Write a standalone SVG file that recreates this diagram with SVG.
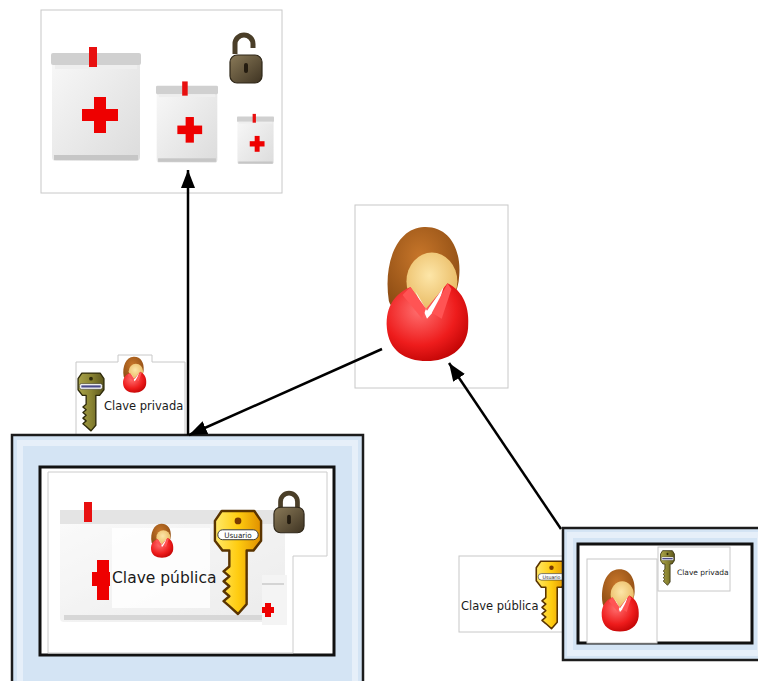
<svg xmlns="http://www.w3.org/2000/svg" width="758" height="681" viewBox="0 0 758 681">
  <style>
    .card { fill: #ffffff; stroke: #c8c8c8; stroke-width: 1; }
    .frame { fill: #d4e4f4; stroke: #1c1c1c; stroke-width: 2.5; }
    .frame-in { fill: none; stroke: #e6eff9; stroke-width: 6; }
    .panel { fill: #ffffff; stroke: #111111; stroke-width: 3; }
    .edge { fill: none; stroke: #000000; stroke-width: 2.5; marker-end: url(#arrow); }
    .lbl { font-family: "DejaVu Sans", "Liberation Sans", sans-serif; fill: #1a1a1a; }
  </style>
  <defs>
    <marker id="arrow" markerUnits="userSpaceOnUse" markerWidth="20" markerHeight="16" refX="18" refY="7" orient="auto">
      <path d="M0,0 L18,7 L0,14 Z" fill="#000"/>
    </marker>
    <linearGradient id="kitBody" x1="0" y1="0" x2="1" y2="1">
      <stop offset="0" stop-color="#f8f8f8"/>
      <stop offset="1" stop-color="#dcdcdc"/>
    </linearGradient>
    <linearGradient id="gold" x1="0" y1="0" x2="1" y2="0">
      <stop offset="0" stop-color="#ffe96a"/>
      <stop offset="0.5" stop-color="#ffcc10"/>
      <stop offset="1" stop-color="#e09000"/>
    </linearGradient>
    <linearGradient id="olive" x1="0" y1="0" x2="1" y2="0">
      <stop offset="0" stop-color="#a9a34a"/>
      <stop offset="0.5" stop-color="#8a8432"/>
      <stop offset="1" stop-color="#5c561c"/>
    </linearGradient>
    <linearGradient id="lockBody" x1="0" y1="0" x2="1" y2="1">
      <stop offset="0" stop-color="#8a7a58"/>
      <stop offset="1" stop-color="#3e3322"/>
    </linearGradient>
    <radialGradient id="hair" cx="0.45" cy="0.35" r="0.7">
      <stop offset="0" stop-color="#c7762a"/>
      <stop offset="1" stop-color="#8a4a12"/>
    </radialGradient>
    <radialGradient id="face" cx="0.45" cy="0.4" r="0.65">
      <stop offset="0" stop-color="#fde6a8"/>
      <stop offset="1" stop-color="#e8b860"/>
    </radialGradient>
    <radialGradient id="suit" cx="0.4" cy="0.35" r="0.75">
      <stop offset="0" stop-color="#ff7070"/>
      <stop offset="0.6" stop-color="#ee1c1c"/>
      <stop offset="1" stop-color="#b80000"/>
    </radialGradient>

    <!-- first-aid kit -->
    <symbol id="kit" viewBox="0 0 90 118" preserveAspectRatio="none">
      <rect x="1" y="10" width="88" height="106" rx="4" fill="url(#kitBody)"/>
      <rect x="0" y="8" width="90" height="12" rx="2" fill="#d0d0d0"/>
      <rect x="4" y="20" width="82" height="4" fill="#eeeeee"/>
      <rect x="3" y="110" width="84" height="5" fill="#c6c6c6"/>
      <rect x="38" y="2" width="8" height="20" fill="#e81010"/>
      <rect x="43" y="52" width="12" height="36" fill="#ee0000"/>
      <rect x="31" y="64" width="36" height="12" fill="#ee0000"/>
    </symbol>

    <!-- padlock, closed -->
    <symbol id="lockShut" viewBox="0 0 34 46">
      <path d="M8,20 V12 A9,9 0 0 1 26,12 V20" fill="none" stroke="#4a3e28" stroke-width="5"/>
      <rect x="1" y="18" width="32" height="27" rx="7" fill="url(#lockBody)" stroke="#2e2618" stroke-width="1.2"/>
      <rect x="15" y="26" width="4" height="10" rx="2" fill="#241c10"/>
    </symbol>

    <!-- padlock, open -->
    <symbol id="lockOpen" viewBox="0 0 34 52">
      <path d="M6,22 V12 A9,9 0 0 1 24,12 V16" fill="none" stroke="#4a3e28" stroke-width="5"/>
      <rect x="1" y="23" width="32" height="28" rx="7" fill="url(#lockBody)" stroke="#2e2618" stroke-width="1.2"/>
      <rect x="15" y="31" width="4" height="10" rx="2" fill="#241c10"/>
    </symbol>

    <!-- user figure -->
    <symbol id="user" viewBox="0 0 90 140" preserveAspectRatio="none">
      <path d="M6,78 C0,40 14,4 42,3 C68,2 80,26 78,52 C77,70 70,80 60,84 L20,90 C12,88 8,84 6,78 Z" fill="url(#hair)"/>
      <ellipse cx="50" cy="58" rx="26" ry="29" fill="url(#face)"/>
      <path d="M4,106 C2,82 14,70 28,64 L44,86 L66,60 C82,68 89,84 87,106 C85,128 66,139 45,139 C22,139 6,128 4,106 Z" fill="url(#suit)"/>
      <path d="M33,68 L45,88 L62,64 L56,84 L45,96 Z" fill="#ffffff"/>
      <path d="M28,64 L44,86 L40,96 L20,72 Z" fill="#ff5454"/>
      <path d="M66,60 L70,66 L60,96 L50,90 Z" fill="#ff5454"/>
    </symbol>

    <!-- key, gold -->
    <symbol id="keyGold" viewBox="0 0 52 108" preserveAspectRatio="none">
      <path d="M9,2 H43 L50,12 V32 L42,42 H35 V96 L26,106 L17,98 L11,93 L17,88 L11,83 L17,78 L11,73 L17,68 L11,63 L17,58 V42 H10 L2,32 V12 Z" fill="url(#gold)" stroke="#5a3400" stroke-width="2.5" stroke-linejoin="round"/>
      <circle cx="26" cy="12" r="3.5" fill="#7a3a00"/>
      <rect x="5" y="21" width="42" height="10" rx="5" fill="#ffffff" stroke="#333" stroke-width="1"/>
      <text x="26" y="29" text-anchor="middle" font-family="DejaVu Sans, sans-serif" font-size="7.5" fill="#222">Usuario</text>
    </symbol>

    <!-- key, olive -->
    <symbol id="keyOlive" viewBox="0 0 52 108" preserveAspectRatio="none">
      <path d="M9,2 H43 L50,12 V32 L42,42 H35 V96 L26,106 L17,98 L11,93 L17,88 L11,83 L17,78 L11,73 L17,68 L11,63 L17,58 V42 H10 L2,32 V12 Z" fill="url(#olive)" stroke="#2e2a0a" stroke-width="2.5" stroke-linejoin="round"/>
      <circle cx="26" cy="12" r="3.5" fill="#2e2a0a"/>
      <rect x="5" y="21" width="42" height="10" rx="3" fill="#ffffff" stroke="#333" stroke-width="1"/>
      <rect x="8" y="24" width="36" height="4" fill="#4a4a8a"/>
    </symbol>
  </defs>

  <!-- records store (unlocked) -->
  <g id="records">
    <rect class="card" x="41" y="10" width="241" height="183"/>
    <use href="#kit" x="51" y="45" width="90" height="118"/>
    <use href="#kit" x="156" y="80" width="62" height="84"/>
    <use href="#kit" x="237" y="113" width="37" height="52"/>
    <use href="#lockOpen" x="229" y="32" width="34" height="52"/>
  </g>

  <!-- user -->
  <g id="user-node">
    <rect class="card" x="355" y="205" width="153" height="183"/>
    <use href="#user" x="383" y="224" width="88" height="138"/>
  </g>

  <!-- private key label -->
  <g id="private-key">
    <path class="card" d="M76,362 H118 V355 H152 V362 H185 V435 H76 Z"/>
    <use href="#keyOlive" x="77" y="372" width="28" height="60"/>
    <use href="#user" x="122" y="356" width="25" height="37"/>
    <text class="lbl" x="104" y="410" font-size="11.5">Clave privada</text>
  </g>

  <!-- locked records -->
  <g id="locked-records">
    <rect class="frame" x="12" y="435" width="351" height="262"/>
    <rect class="frame-in" x="20" y="443" width="335" height="246"/>
    <rect class="panel" x="40" y="467" width="294" height="188"/>
    <path d="M48,472 H327 V556 H293 V653 H48 Z" fill="#ffffff" stroke="#cccccc" stroke-width="1"/>
    <g opacity="0.55">
      <rect x="60" y="510" width="225" height="112" rx="4" fill="url(#kitBody)"/>
      <rect x="60" y="510" width="225" height="14" fill="#cfcfcf"/>
      <rect x="64" y="615" width="215" height="5" fill="#b8b8b8"/>
    </g>
    <rect x="84" y="502" width="8" height="20" fill="#e81010"/>
    <rect x="112" y="528" width="98" height="80" fill="#ffffff" opacity="0.8"/>
    <rect x="97" y="560" width="12" height="40" fill="#ee0000"/>
    <rect x="92" y="572" width="18" height="14" fill="#ee0000"/>
    <use href="#user" x="150" y="523" width="24" height="35"/>
    <text class="lbl" x="112" y="583" font-size="15.5">Clave pública</text>
    <use href="#keyGold" x="213" y="509" width="50" height="107"/>
    <use href="#lockShut" x="273" y="490" width="32" height="44"/>
    <rect x="262" y="575" width="25" height="50" fill="#f4f4f4"/>
    <rect x="262" y="583" width="22" height="2" fill="#d4d4d4"/>
    <rect x="265" y="603" width="6" height="14" fill="#ee0000"/>
    <rect x="262" y="607" width="12" height="6" fill="#ee0000"/>
  </g>

  <!-- public key label -->
  <g id="public-key">
    <rect class="card" x="459" y="556" width="106" height="76"/>
    <text class="lbl" x="461" y="610" font-size="11.5">Clave pública</text>
    <use href="#keyGold" x="535" y="560" width="33" height="70"/>
  </g>

  <!-- user keypair -->
  <g id="keypair">
    <rect class="frame" x="563" y="528" width="200" height="132"/>
    <rect class="frame-in" x="570" y="535" width="190" height="118"/>
    <rect class="panel" x="578" y="544" width="174" height="99"/>
    <rect class="card" x="587" y="559" width="70" height="84"/>
    <use href="#user" x="600" y="568" width="40" height="64"/>
    <rect class="card" x="658" y="547" width="72" height="44"/>
    <use href="#keyOlive" x="660" y="550" width="15" height="36"/>
    <text class="lbl" x="677" y="575" font-size="7.5">Clave privada</text>
  </g>

  <!-- connectors -->
  <g id="connectors">
    <line class="edge" x1="188" y1="435" x2="188" y2="170"/>
    <line class="edge" x1="382" y1="349" x2="189" y2="435"/>
    <line class="edge" x1="561" y1="529" x2="449" y2="363"/>
  </g>
</svg>
